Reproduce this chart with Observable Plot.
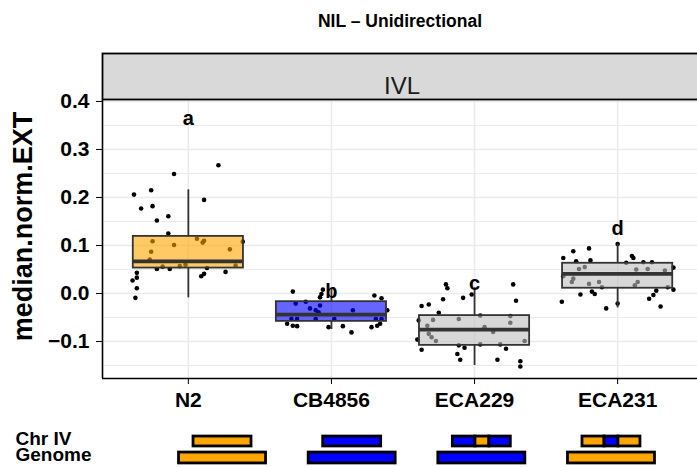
<!DOCTYPE html>
<html>
<head>
<meta charset="utf-8">
<script src="https://cdn.jsdelivr.net/npm/d3@7"></script>
<script src="https://cdn.jsdelivr.net/npm/@observablehq/plot@0.6"></script>
<style>
  body { margin: 0; background: #fff; font-family: "Liberation Sans", Arial, sans-serif; }
  #wrap { width: 697px; height: 467px; overflow: hidden; position: relative; background: #fff; }
  #title { width: 697px; height: 40px; line-height: 42px; box-sizing: border-box; padding-left: 103px;
           text-align: center; font-weight: bold; font-size: 17.5px; color: #000; }
  #main svg, #chrom svg { display: block; }
  #main g[aria-label^="x-axis"] text, #main g[aria-label^="y-axis"] text { font-weight: bold; font-size: 21px; fill: #000; }
</style>
</head>
<body>
<div id="wrap">
  <div id="title">NIL – Unidirectional</div>
  <div id="main"></div>
  <div id="chrom"></div>
</div>
<script>
// ---------- data ----------
const strains = ["N2", "CB4856", "ECA229", "ECA231"];
const panelLabel = "IVL";
const yLabel = "median.norm.EXT";
const yMajorTicks = [-0.1, 0.0, 0.1, 0.2, 0.3, 0.4];
const yMinorTicks = [-0.15, -0.05, 0.05, 0.15, 0.25, 0.35];

const n2Values = [0.267,0.249,0.206,0.215,0.177,0.182,0.195,0.161,0.152,0.125,0.109,0.087,0.101,0.114,0.110,0.106,0.092,0.108,0.071,0.051,0.056,0.051,0.057,0.060,0.053,0.058,0.045,0.041,0.036,0.043,0.033,0.027,0.011,-0.009];
const n2Jitter = [0.21,-0.10,-0.38,-0.26,-0.33,-0.25,0.11,-0.14,-0.22,-0.14,-0.25,-0.26,-0.10,0.06,0.11,0.10,0.29,0.38,-0.27,-0.22,-0.18,-0.13,-0.06,-0.02,0.13,0.33,0.26,0.11,0.09,-0.36,-0.36,-0.39,-0.36,-0.37];

const cbValues = [0.004,0.008,-0.001,-0.008,-0.004,-0.010,-0.021,-0.031,-0.035,-0.025,-0.039,-0.035,-0.035,-0.053,-0.053,-0.053,-0.053,-0.053,-0.053,-0.063,-0.067,-0.068,-0.070,-0.068,-0.070,-0.067,-0.063,-0.081,-0.017];
const cbJitter = [-0.27,-0.06,-0.07,-0.08,0.30,0.35,-0.25,-0.15,-0.11,-0.08,-0.09,0.15,0.39,-0.28,-0.24,-0.11,0.02,0.31,0.35,-0.31,-0.27,-0.24,-0.02,0.08,0.28,0.32,0.34,0.14,-0.18];

const eca229Values = [0.019,0.011,0.019,-0.002,-0.009,-0.012,-0.015,-0.026,-0.023,-0.040,-0.046,-0.047,-0.056,-0.055,-0.053,-0.061,-0.067,-0.070,-0.084,-0.091,-0.099,-0.096,-0.099,-0.108,-0.113,-0.106,-0.106,-0.115,-0.117,-0.126,-0.138,-0.138,-0.141,-0.152,-0.080];
const eca229Jitter = [-0.20,-0.19,0.27,-0.02,-0.08,-0.22,0.29,-0.37,-0.32,-0.25,0.04,0.25,-0.39,-0.29,-0.11,0.25,-0.33,0.07,-0.32,-0.30,-0.27,-0.40,0.35,-0.11,-0.07,0.04,0.18,0.22,-0.37,-0.12,-0.10,0.16,0.32,0.32,0.13];

const eca231Values = [0.103,0.094,0.088,0.074,0.067,0.069,0.078,0.074,0.065,0.065,0.064,0.051,0.055,0.050,0.051,0.048,0.054,0.036,0.031,0.024,0.020,0.024,0.024,0.017,0.013,0.013,0.008,0.004,-0.001,-0.002,0.006,-0.003,-0.011,-0.017,-0.021,-0.031,-0.027];
const eca231Jitter = [0.00,-0.20,-0.31,-0.38,-0.29,-0.19,0.10,0.11,0.18,0.24,0.06,-0.27,-0.23,0.13,0.21,0.33,0.39,-0.38,-0.31,-0.32,-0.20,-0.13,0.14,0.12,-0.11,0.35,0.39,-0.18,-0.16,-0.26,0.27,0.25,0.22,-0.39,0.00,-0.08,0.30];

const whiskerLow  = [-0.009, -0.075, -0.150, -0.030];
const quartile1   = [ 0.053, -0.058, -0.108,  0.011];
const medians     = [ 0.067, -0.044, -0.075,  0.041];
const quartile3   = [ 0.119, -0.017, -0.046,  0.063];
const whiskerHigh = [ 0.216,  0.008,  0.012,  0.103];

const sigLetters = ["a", "b", "c", "d"];
const letterY = [0.365, 0.003, 0.021, 0.135];

// genotype strips: [start, end, parent] along chromosome IV (fraction of length)
const chrRowLabels = ["Chr IV", "Genome"];
const chrIVSegments = [
  [[0, 1, "N2"]],
  [[0, 1, "CB4856"]],
  [[0, 0.39, "CB4856"], [0.39, 0.63, "N2"], [0.63, 1, "CB4856"]],
  [[0, 0.38, "N2"], [0.38, 0.62, "CB4856"], [0.62, 1, "N2"]]
];
const genomeBackground = ["N2", "CB4856", "CB4856", "N2"];

// ---------- build tables ----------
const valueSets = [n2Values, cbValues, eca229Values, eca231Values];
const jitterSets = [n2Jitter, cbJitter, eca229Jitter, eca231Jitter];
const points = valueSets.flatMap((vals, i) => vals.map((v, k) => ({pos: i + 1 + jitterSets[i][k], value: v})));
const boxes = strains.map((s, i) => ({
  strain: s, pos: i + 1, lo: whiskerLow[i], q1: quartile1[i], med: medians[i], q3: quartile3[i], hi: whiskerHigh[i],
  letter: sigLetters[i], letterY: letterY[i]
}));

const boxColor = {N2: "#FFA500", CB4856: "#0000FF", ECA229: "#BEBEBE", ECA231: "#BEBEBE"};
const parentColor = {N2: "#FFA500", CB4856: "#0000FF"};

const xDomain = [0.4, 4.6];
const yDomain = [-0.177, 0.402];
const halfBox = 0.385;
const boxStroke = "#333333";

const main = Plot.plot({
  width: 697, height: 380,
  marginLeft: 102, marginRight: 0, marginTop: 60, marginBottom: 42,
  style: {fontFamily: "Liberation Sans, Arial, sans-serif", background: "#fff", color: "#000"},
  x: {type: "linear", domain: xDomain, range: [102, 703], ticks: [1, 2, 3, 4],
      tickFormat: d => strains[d - 1], tickSize: 6, tickPadding: 8, label: null},
  y: {domain: yDomain, ticks: yMajorTicks, tickFormat: d3.format(".1f"), tickSize: 6, tickPadding: 7, label: null},
  marks: [
    Plot.ruleY(yMinorTicks, {stroke: "#EBEBEB", strokeWidth: 1}),
    Plot.ruleY(yMajorTicks, {stroke: "#EBEBEB", strokeWidth: 1.6}),
    Plot.ruleX([1, 2, 3, 4], {stroke: "#EBEBEB", strokeWidth: 1.6}),
    Plot.dot(points, {x: "pos", y: "value", r: 2.3, fill: "#000", stroke: null}),
    Plot.ruleX(boxes, {x: "pos", y1: "lo", y2: "q1", stroke: boxStroke, strokeWidth: 1.8}),
    Plot.ruleX(boxes, {x: "pos", y1: "q3", y2: "hi", stroke: boxStroke, strokeWidth: 1.8}),
    Plot.rect(boxes, {x1: d => d.pos - halfBox, x2: d => d.pos + halfBox, y1: "q1", y2: "q3",
      fill: d => boxColor[d.strain], fillOpacity: 0.6, stroke: boxStroke, strokeWidth: 1.8}),
    Plot.ruleY(boxes, {y: "med", x1: d => d.pos - halfBox, x2: d => d.pos + halfBox, stroke: boxStroke, strokeWidth: 3.8}),
    Plot.text(boxes, {x: "pos", y: "letterY", text: "letter", fontSize: 20, fontWeight: "bold", fill: "#000", lineAnchor: "middle"}),
    Plot.ruleX([xDomain[0]], {stroke: "#000", strokeWidth: 1.6}),
    Plot.ruleY([yDomain[0]], {stroke: "#000", strokeWidth: 1.6}),
    Plot.frame({fill: "#D9D9D9", stroke: "#000", strokeWidth: 1.8, insetTop: -47, insetBottom: 279, insetRight: -5}),
    Plot.text([panelLabel], {frameAnchor: "top", dy: -24, dx: 2, fontSize: 24, fill: "#1a1a1a"}),
    Plot.text([yLabel], {frameAnchor: "left", textAnchor: "middle", rotate: -90, dx: -79, dy: -13,
      fontSize: 27, fontWeight: "bold", fill: "#000"})
  ]
});
document.getElementById("main").appendChild(main);

// ---------- genotype strip ----------
const chrHalf = 0.2236;   // half width of chromosome bar in strain units
const genHalf = 0.3355;   // half width of genome bar
const segRows = chrIVSegments.flatMap((segs, i) => segs.map(([s, e, p]) => ({pos: i + 1, s, e, parent: p})));
const genomeRows = genomeBackground.map((p, i) => ({pos: i + 1, parent: p}));
const labelRows = chrRowLabels.map((t, i) => ({row: i + 1, text: t}));

const chrom = Plot.plot({
  width: 697, height: 47,
  marginLeft: 15, marginRight: 0, marginTop: 0, marginBottom: 0,
  style: {fontFamily: "Liberation Sans, Arial, sans-serif", background: "#fff", color: "#000"},
  x: {type: "linear", domain: [0.5, 4.5], range: [157.2, 675.8], axis: null},
  y: {type: "linear", domain: [0.5, 2.5], range: [12.75, 45.75], axis: null},
  marks: [
    Plot.rect(segRows, {x1: d => d.pos + (d.s - 0.5) * 2 * chrHalf, x2: d => d.pos + (d.e - 0.5) * 2 * chrHalf,
      y1: () => 0.7, y2: () => 1.3, fill: d => parentColor[d.parent], stroke: "#000", strokeWidth: 2.8}),
    Plot.rect(genomeRows, {x1: d => d.pos - genHalf, x2: d => d.pos + genHalf,
      y1: () => 1.67, y2: () => 2.33, fill: d => parentColor[d.parent], stroke: "#000", strokeWidth: 2.8}),
    Plot.text(labelRows, {y: "row", text: "text", frameAnchor: "left", textAnchor: "start",
      fontSize: 19, fontWeight: "bold", fill: "#000", dy: -3})
  ]
});
document.getElementById("chrom").appendChild(chrom);
</script>
</body>
</html>
